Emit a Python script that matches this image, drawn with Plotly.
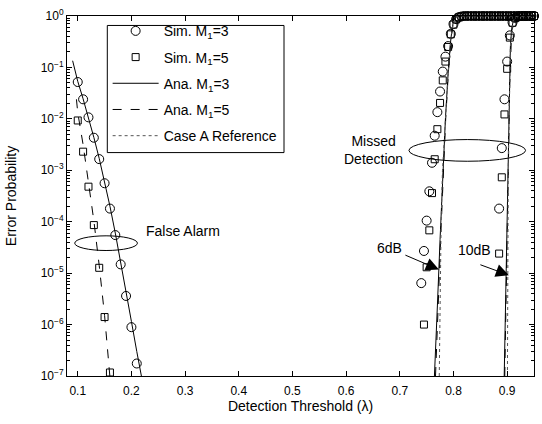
import plotly.graph_objects as go

# ---------------- data ----------------
# False-alarm region (simulation)
fa_x_sim3 = [0.10, 0.11, 0.12, 0.13, 0.14, 0.15, 0.16, 0.17, 0.18, 0.19, 0.20, 0.21]
fa_y_sim3 = [5.2e-2, 2.4e-2, 1.07e-2, 4.3e-3, 1.65e-3, 5.6e-4, 1.8e-4, 5.5e-5, 1.48e-5, 3.6e-6, 8.9e-7, 1.75e-7]
fa_x_sim5 = [0.10, 0.11, 0.12, 0.13, 0.14, 0.15, 0.16]
fa_y_sim5 = [9.3e-3, 2.3e-3, 4.8e-4, 8.6e-5, 1.27e-5, 1.4e-6, 1.17e-7]

# Missed detection, 6 dB (simulation)
md6_x_sim3 = [0.740, 0.745, 0.750, 0.755, 0.760, 0.765, 0.770, 0.775, 0.780, 0.785,
              0.790, 0.795, 0.800, 0.805, 0.810, 0.815, 0.820, 0.825, 0.830, 0.835,
              0.840, 0.845, 0.850, 0.855, 0.860, 0.865, 0.870, 0.875, 0.880, 0.885,
              0.890, 0.895, 0.900, 0.905, 0.910, 0.915, 0.920, 0.925, 0.930, 0.935,
              0.940, 0.945, 0.950]
md6_y_sim3 = [6.4e-6, 2.7e-5, 1.05e-4, 3.9e-4, 1.4e-3, 4.7e-3, 1.35e-2, 3.4e-2, 8.3e-2, 0.162,
              0.26, 0.45, 0.70, 0.87, 0.95, 0.98, 1.0, 1.0, 1.0, 1.0,
              1.0, 1.0, 1.0, 1.0, 1.0, 1.0, 1.0, 1.0, 1.0, 1.0,
              1.0, 1.0, 1.0, 1.0, 1.0, 1.0, 1.0, 1.0, 1.0, 1.0,
              1.0, 1.0, 1.0]
md6_x_sim5 = [0.745, 0.750, 0.755, 0.760, 0.765, 0.770, 0.775, 0.780, 0.785,
              0.790, 0.795, 0.800, 0.805, 0.810, 0.815, 0.820, 0.825, 0.830, 0.835,
              0.840, 0.845, 0.850, 0.855, 0.860, 0.865, 0.870, 0.875, 0.880, 0.885,
              0.890, 0.895, 0.900, 0.905, 0.910, 0.915, 0.920, 0.925, 0.930, 0.935,
              0.940, 0.945, 0.950]
md6_y_sim5 = [1.0e-6, 1.3e-5, 6.8e-5, 3.6e-4, 1.64e-3, 6.3e-3, 2.04e-2, 5.6e-2, 0.13,
              0.25, 0.44, 0.68, 0.86, 0.95, 0.98, 1.0, 1.0, 1.0, 1.0,
              1.0, 1.0, 1.0, 1.0, 1.0, 1.0, 1.0, 1.0, 1.0, 1.0,
              1.0, 1.0, 1.0, 1.0, 1.0, 1.0, 1.0, 1.0, 1.0, 1.0,
              1.0, 1.0, 1.0]

# Missed detection, 10 dB (simulation)
md10_x_sim = [0.885, 0.890, 0.895, 0.900, 0.905, 0.910, 0.915, 0.920, 0.925, 0.930, 0.935, 0.940, 0.945, 0.950]
md10_y_sim3 = [1.8e-4, 2.7e-3, 2.4e-2, 0.13, 0.42, 0.75, 0.92, 0.98, 1.0, 1.0, 1.0, 1.0, 1.0, 1.0]
md10_y_sim5 = [2.4e-5, 7.3e-4, 1.22e-2, 9.4e-2, 0.38, 0.74, 0.91, 0.98, 1.0, 1.0, 1.0, 1.0, 1.0, 1.0]

# Analytical curves
fa_x_ana3 = [0.0905, 0.10, 0.11, 0.12, 0.13, 0.14, 0.15, 0.16, 0.17, 0.18, 0.19, 0.20, 0.21, 0.2186]
fa_y_ana3 = [0.135, 5.37e-2, 2.45e-2, 1.07e-2, 4.37e-3, 1.70e-3, 6.0e-4, 2.0e-4, 6.0e-5, 1.7e-5, 4.7e-6, 1.15e-6, 3.0e-7, 1.0e-7]
fa_x_ana5 = [0.0976, 0.10, 0.11, 0.12, 0.13, 0.14, 0.15, 0.1598]
fa_y_ana5 = [2.4e-2, 1.32e-2, 3.16e-3, 6.3e-4, 1.05e-4, 1.41e-5, 1.51e-6, 1.0e-7]

md6_x_ana3 = [0.7645, 0.766, 0.770, 0.775, 0.780, 0.785, 0.790, 0.795, 0.800, 0.805, 0.810, 0.950]
md6_y_ana3 = [1.0e-7, 2.1e-7, 2.3e-6, 4.5e-5, 8.5e-4, 1.0e-2, 7.6e-2, 0.355, 0.83, 0.966, 1.0, 1.0]
md6_x_ana5 = [0.7665, 0.768, 0.7715, 0.776, 0.7805, 0.7855, 0.7903, 0.7952, 0.8002, 0.8052, 0.8102, 0.950]
md6_y_ana5 = [1.0e-7, 2.1e-7, 2.3e-6, 4.5e-5, 8.5e-4, 1.0e-2, 7.6e-2, 0.355, 0.83, 0.966, 1.0, 1.0]
md6_x_ref = [0.7735, 0.7745, 0.7755, 0.777, 0.7795, 0.785, 0.790, 0.795, 0.800, 0.805, 0.810, 0.950]
md6_y_ref = [1.0e-7, 1.0e-6, 1.0e-5, 1.0e-4, 1.0e-3, 1.0e-2, 7.6e-2, 0.355, 0.83, 0.966, 1.0, 1.0]

md10_x_ana3 = [0.8945, 0.896, 0.898, 0.900, 0.902, 0.904, 0.906, 0.908, 0.911, 0.915, 0.920, 0.950]
md10_y_ana3 = [1.0e-7, 6.3e-7, 6.3e-6, 1.0e-4, 2.5e-3, 4.5e-2, 0.25, 0.5, 0.79, 0.955, 1.0, 1.0]
md10_x_ana5 = [0.8955, 0.897, 0.899, 0.901, 0.9028, 0.9046, 0.9064, 0.9084, 0.9113, 0.9152, 0.920, 0.950]
md10_y_ana5 = [1.0e-7, 6.3e-7, 6.3e-6, 1.0e-4, 2.5e-3, 4.5e-2, 0.25, 0.5, 0.79, 0.955, 1.0, 1.0]
md10_x_ref = [0.9005, 0.9008, 0.901, 0.9015, 0.902, 0.9045, 0.906, 0.908, 0.911, 0.915, 0.920, 0.950]
md10_y_ref = [1.0e-7, 1.0e-6, 1.0e-5, 1.0e-4, 1.0e-3, 3.0e-2, 0.25, 0.5, 0.79, 0.955, 1.0, 1.0]

y_tick_vals = [1e-7, 1e-6, 1e-5, 1e-4, 1e-3, 1e-2, 1e-1, 1e0]
y_tick_text = ["10<sup>−7</sup>", "10<sup>−6</sup>", "10<sup>−5</sup>", "10<sup>−4</sup>",
               "10<sup>−3</sup>", "10<sup>−2</sup>", "10<sup>−1</sup>", "10<sup>0</sup>"]
x_tick_vals = [0.1, 0.2, 0.3, 0.4, 0.5, 0.6, 0.7, 0.8, 0.9]


def join(*segs):
    xs, ys = [], []
    for i in range(0, len(segs), 2):
        if xs:
            xs.append(None)
            ys.append(None)
        xs += list(segs[i])
        ys += list(segs[i + 1])
    return xs, ys


FONT = "Liberation Sans, Arial, Helvetica, sans-serif"
fig = go.Figure()

x, y = join(fa_x_sim3, fa_y_sim3, md6_x_sim3, md6_y_sim3, md10_x_sim, md10_y_sim3)
fig.add_trace(go.Scatter(x=x, y=y, mode="markers", name="Sim. M<sub>1</sub>=3", legendgroup="a",
                         cliponaxis=False,
                         marker=dict(symbol="circle-open", size=9, color="black", line=dict(width=1, color="black"))))
x, y = join(fa_x_sim5, fa_y_sim5, md6_x_sim5, md6_y_sim5, md10_x_sim, md10_y_sim5)
fig.add_trace(go.Scatter(x=x, y=y, mode="markers", name="Sim. M<sub>1</sub>=5", legendgroup="b",
                         cliponaxis=False,
                         marker=dict(symbol="square-open", size=7, color="black", line=dict(width=1, color="black"))))
x, y = join(fa_x_ana3, fa_y_ana3, md6_x_ana3, md6_y_ana3, md10_x_ana3, md10_y_ana3)
fig.add_trace(go.Scatter(x=x, y=y, mode="lines", name="Ana. M<sub>1</sub>=3", legendgroup="c",
                         line=dict(color="black", width=1)))
x, y = join(fa_x_ana5, fa_y_ana5, md6_x_ana5, md6_y_ana5, md10_x_ana5, md10_y_ana5)
fig.add_trace(go.Scatter(x=x, y=y, mode="lines", name="Ana. M<sub>1</sub>=5", legendgroup="d",
                         line=dict(color="black", width=1, dash="dash")))
x, y = join(md6_x_ref, md6_y_ref, md10_x_ref, md10_y_ref)
fig.add_trace(go.Scatter(x=x, y=y, mode="lines", name="Case A Reference", legendgroup="e",
                         line=dict(color="#555555", width=1, dash="dot")))

axis_common = dict(showline=True, linecolor="black", linewidth=1, mirror="allticks",
                   ticks="inside", tickcolor="black", showgrid=False, zeroline=False,
                   ticklabeloverflow="allow",
                   tickfont=dict(family=FONT, size=12, color="black"))

fig.update_xaxes(range=[0.08, 0.95], tickvals=x_tick_vals, ticklen=5, ticklabelstandoff=4,
                 title=dict(text="Detection Threshold (λ)", font=dict(family=FONT, size=14, color="black"), standoff=3),
                 **axis_common)
minor_vals = [m * 10.0 ** e for e in range(-7, 0) for m in range(2, 10)]
fig.update_yaxes(type="log", range=[-7, 0], tickvals=y_tick_vals, ticktext=y_tick_text, ticklen=5,
                 minor=dict(tickvals=minor_vals, ticks="inside", ticklen=3, tickcolor="black", showgrid=False),
                 title=dict(text="Error Probability", font=dict(family=FONT, size=14, color="black"), standoff=20),
                 **axis_common)

# legend frame (drawn as a shape so its padding matches the original)
fig.add_shape(type="rect", xref="paper", yref="paper", x0=0.0863, x1=0.4647, y0=0.6206, y1=0.9737,
              line=dict(color="black", width=1), fillcolor="white", layer="below")

# ellipses (in domain coordinates of the log y axis)
fig.add_shape(type="circle", xref="x", yref="y domain", x0=0.0944, x1=0.2112, y0=0.3486, y1=0.3894,
              line=dict(color="black", width=1))
fig.add_shape(type="circle", xref="x", yref="y domain", x0=0.7170, x1=0.9343, y0=0.5965, y1=0.6568,
              line=dict(color="black", width=1))

ann_font = dict(family=FONT, size=14, color="black")
fig.add_annotation(x=0.2229, y=-4.184, text="False Alarm", showarrow=False, xanchor="left", font=ann_font)
fig.add_annotation(x=0.6506, y=-2.597, text="Missed<br>Detection", showarrow=False, align="center", font=ann_font)
fig.add_annotation(x=0.6814, y=-4.516, text="6dB", showarrow=False, font=ann_font)
fig.add_annotation(x=0.8397, y=-4.549, text="10dB", showarrow=False, font=ann_font)
fig.add_annotation(x=0.7728, y=-4.929, text="", showarrow=True, ax=-35, ay=-15,
                   arrowhead=2, arrowsize=2.6, arrowwidth=1, arrowcolor="black")
fig.add_annotation(x=0.9032, y=-5.04, text="", showarrow=True, ax=-30, ay=-11,
                   arrowhead=2, arrowsize=2.6, arrowwidth=1, arrowcolor="black")

fig.update_layout(
    width=542, height=424,
    margin=dict(l=67, r=8, t=7, b=48),
    paper_bgcolor="white", plot_bgcolor="white",
    font=dict(family=FONT, size=12, color="black"),
    showlegend=True,
    legend=dict(x=0.087, y=1.002, xanchor="left", yanchor="top",
                bgcolor="rgba(0,0,0,0)", borderwidth=0,
                font=dict(family=FONT, size=14, color="black"),
                itemwidth=46, tracegroupgap=5),
)

fig.write_html("out.html")
